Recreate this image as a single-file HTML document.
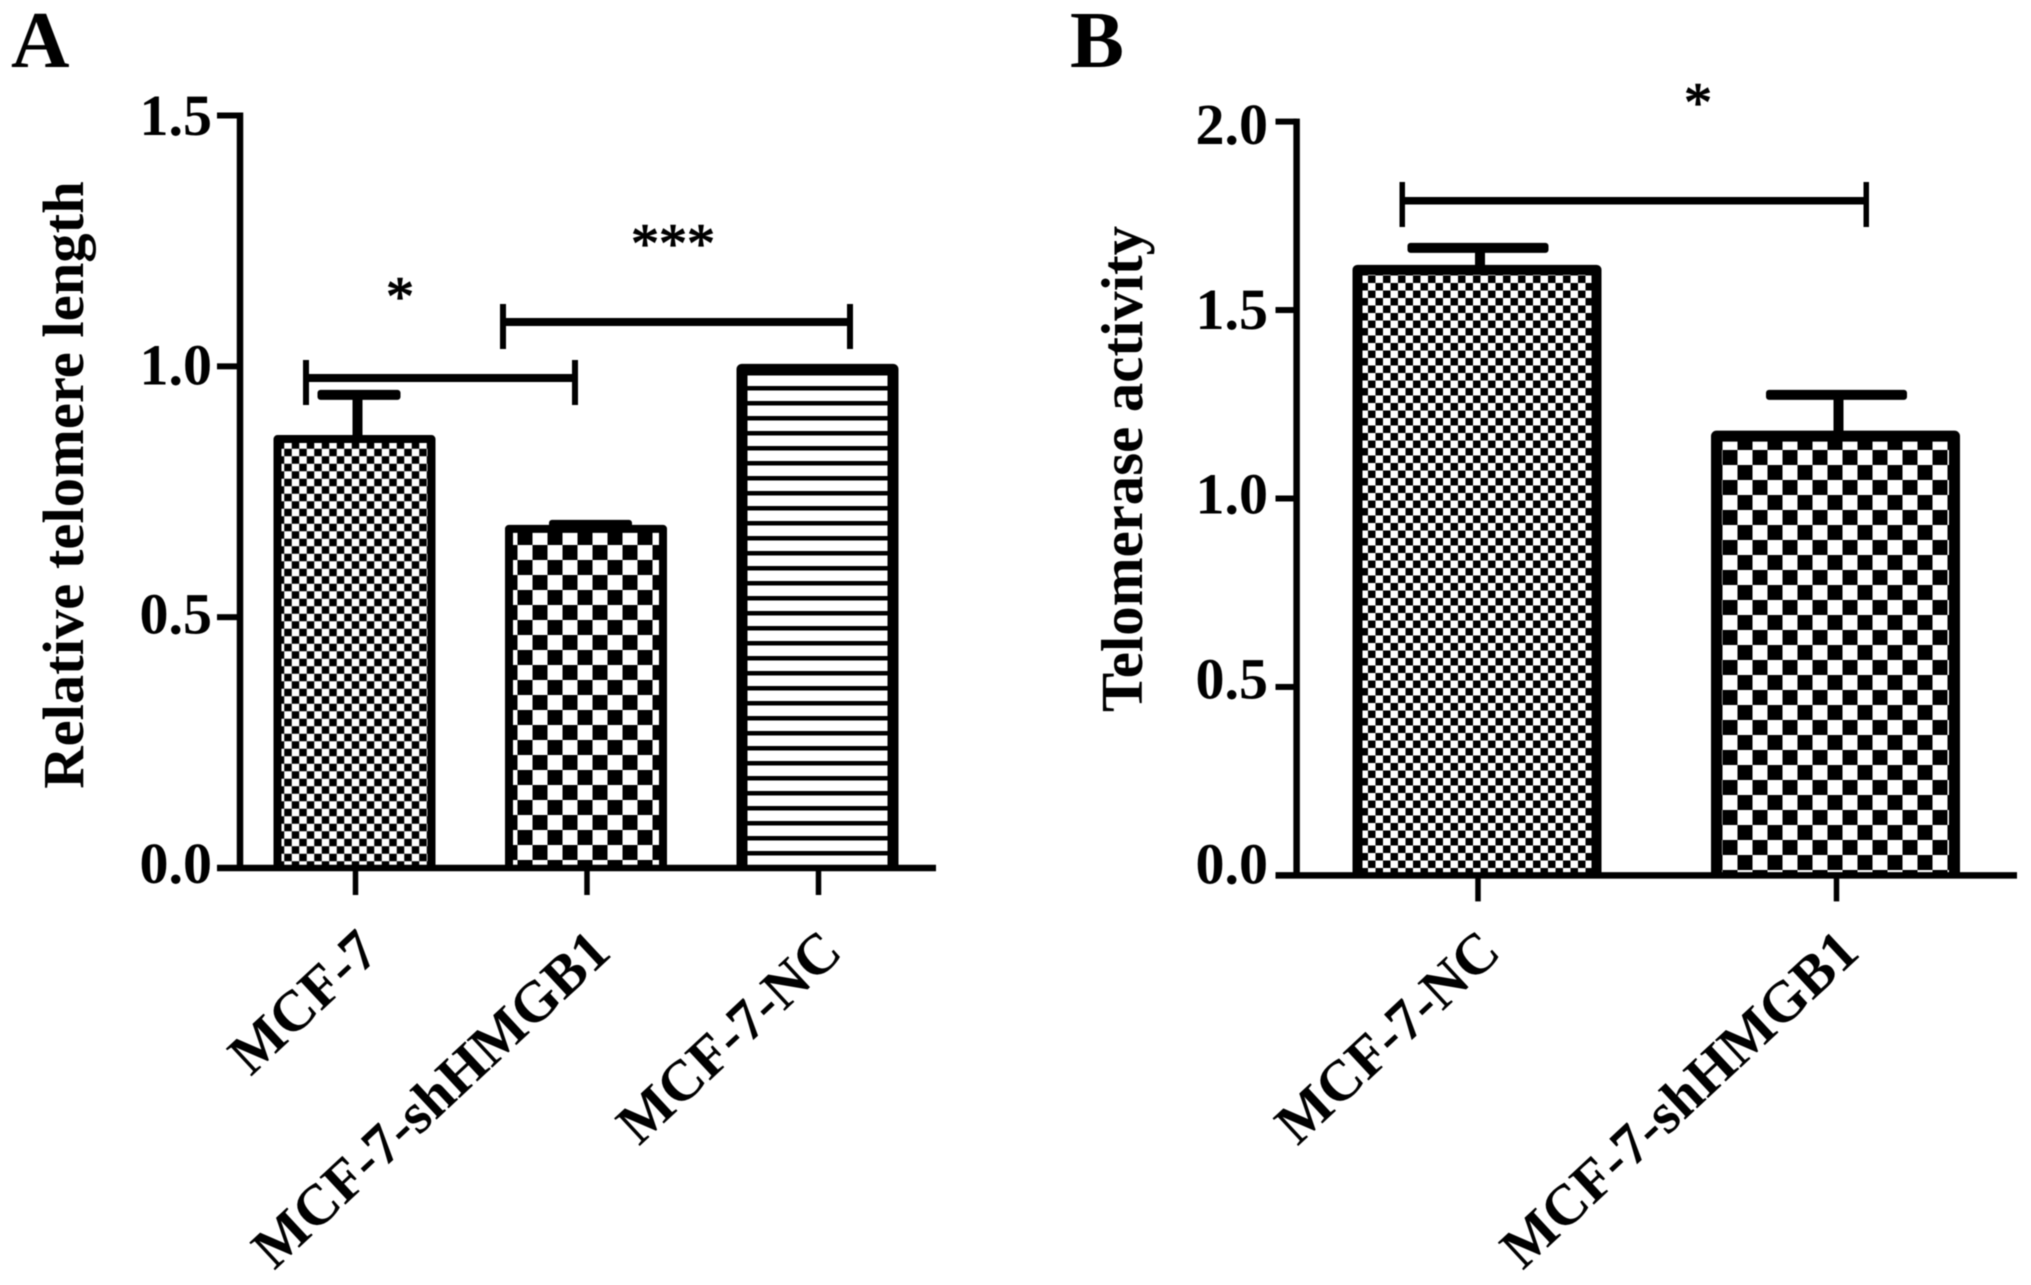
<!DOCTYPE html>
<html lang="en">
<head>
<meta charset="utf-8">
<title>Relative telomere length and telomerase activity</title>
<style>
html,body{margin:0;padding:0;background:#fff;}
svg{display:block;filter:blur(0.6px);}
text{font-family:"Liberation Serif",serif;font-weight:bold;fill:#000;}
</style>
</head>
<body>
<svg id="figure" xmlns="http://www.w3.org/2000/svg" width="2031" height="1285" viewBox="0 0 2031 1285">
  <defs>
    <pattern id="fine-a" patternUnits="userSpaceOnUse" x="284.25" y="441.25" width="15" height="15">
      <rect width="15" height="15" fill="#000"/>
      <rect width="7.5" height="7.5" fill="#fff"/>
      <rect x="7.5" y="7.5" width="7.5" height="7.5" fill="#fff"/>
    </pattern>
    <pattern id="coarse-a" patternUnits="userSpaceOnUse" x="517.5" y="545" width="30" height="30">
      <rect width="30" height="30" fill="#000"/>
      <rect width="15" height="15" fill="#fff"/>
      <rect x="15" y="15" width="15" height="15" fill="#fff"/>
    </pattern>
    <pattern id="lines-a" patternUnits="userSpaceOnUse" x="0" y="386" width="15" height="15">
      <rect width="15" height="15" fill="#fff"/>
      <rect width="15" height="4.5" fill="#000"/>
    </pattern>
    <pattern id="fine-b" patternUnits="userSpaceOnUse" x="1375.5" y="275.5" width="15" height="15">
      <rect width="15" height="15" fill="#000"/>
      <rect width="7.5" height="7.5" fill="#fff"/>
      <rect x="7.5" y="7.5" width="7.5" height="7.5" fill="#fff"/>
    </pattern>
    <pattern id="coarse-b" patternUnits="userSpaceOnUse" x="1737.5" y="450" width="30" height="30">
      <rect width="30" height="30" fill="#000"/>
      <rect width="15" height="15" fill="#fff"/>
      <rect x="15" y="15" width="15" height="15" fill="#fff"/>
    </pattern>
  </defs>
  <rect width="2031" height="1285" fill="#fff"/>

  <text x="11" y="67" font-size="81">A</text>
  <text x="1070" y="67" font-size="81">B</text>

  <text transform="translate(83,485) rotate(-90)" text-anchor="middle" font-size="58.6">Relative telomere length</text>
  <text transform="translate(1142,469) rotate(-90)" text-anchor="middle" font-size="58.8">Telomerase activity</text>

  <g id="panel-a"></g>
  <g id="panel-b"></g>

  <g fill="#000">
    <rect x="306" y="374" width="269" height="8"/>
    <rect x="303" y="360" width="6" height="45"/>
    <rect x="572" y="360" width="6" height="45"/>
  </g>
  <g fill="#000">
    <rect x="503" y="318" width="347" height="8"/>
    <rect x="500" y="304" width="6" height="45"/>
    <rect x="847" y="304" width="6" height="45"/>
  </g>
  <g fill="#000">
    <rect x="1402" y="197" width="464" height="7.5"/>
    <rect x="1399.5" y="182" width="5.5" height="45"/>
    <rect x="1863.5" y="182" width="5.5" height="45"/>
  </g>
  <text x="400" y="315" text-anchor="middle" font-size="56" style="font-weight:normal;stroke:#000;stroke-width:1.2">*</text>
  <text x="673" y="262" text-anchor="middle" font-size="56" style="font-weight:normal;stroke:#000;stroke-width:1.2">***</text>
  <text x="1698" y="121" text-anchor="middle" font-size="56" style="font-weight:normal;stroke:#000;stroke-width:1.2">*</text>
</svg>

<script>
/* Panel A data */
const aCategories = ["MCF-7", "MCF-7-shHMGB1", "MCF-7-NC"];
const aValues = [0.863, 0.684, 1.005];
const aErrorTops = [0.943, 0.684, null];
const aTickLabels = ["0.0", "0.5", "1.0", "1.5"];

/* Panel B data */
const bCategories = ["MCF-7-NC", "MCF-7-shHMGB1"];
const bValues = [1.62, 1.18];
const bErrorTops = [1.665, 1.275];
const bTickLabels = ["0.0", "0.5", "1.0", "1.5", "2.0"];

const NS = "http://www.w3.org/2000/svg";

function make(parent, tag, attrs) {
  const node = document.createElementNS(NS, tag);
  for (const key in attrs) node.setAttribute(key, attrs[key]);
  parent.appendChild(node);
  return node;
}

function drawPanel(parent, cfg, categories, values, errorTops, tickLabels) {
  const maxTick = parseFloat(tickLabels[tickLabels.length - 1]);
  const yScale = function (v) {
    return cfg.y0 + (cfg.yTop - cfg.y0) * (v / maxTick);
  };
  const xScale = function (i) {
    return cfg.x0 + cfg.step * i;
  };

  categories.forEach(function (cat, i) {
    const c = xScale(i);

    if (errorTops[i] !== null) {
      const yErr = yScale(errorTops[i]);
      const stem = make(parent, "rect", {
        x: c + 3 - 5, y: yErr, width: 10, height: yScale(values[i]) - yErr + 6, fill: "#000"
      });
      
      
      const cap = make(parent, "rect", {
        x: c + cfg.capShift - cfg.capWidth / 2, y: yErr - 5, width: cfg.capWidth, height: 10, rx: 3, fill: "#000"
      });
      
      
    }

    const top = yScale(values[i]);
    const s = cfg.borders[i];
    const left = c - cfg.barWidth / 2 + s / 2;
    const right = c + cfg.barWidth / 2 - s / 2;
    const bar = make(parent, "path", {
      d: "M" + left + " " + cfg.y0 + "V" + (top + s / 2) + "H" + right + "V" + cfg.y0,
      fill: "url(#" + cfg.fills[i] + ")",
      stroke: "#000",
      "stroke-width": s,
      "stroke-linejoin": "round"
    });
    
    

    const tick = make(parent, "rect", {
      x: c + 1 - 2.75, y: cfg.y0, width: 5.5, height: cfg.xTickLen, fill: "#000"
    });
    
    

    const label = make(parent, "text", {
      transform: "translate(" + (c + cfg.labelDx) + "," + cfg.labelY + ") rotate(-43)",
      "text-anchor": "end",
      "font-size": 57.5
    });
    label.textContent = cat;
    
    
  });

  const yAxis = make(parent, "rect", {
    x: cfg.axisX - 3.25, y: cfg.yTop - 3, width: 6.5, height: cfg.y0 - cfg.yTop + 6, fill: "#000"
  });
  
  

  const xAxis = make(parent, "rect", {
    x: cfg.tickLeft, y: cfg.y0 - 3.25, width: cfg.xAxisEnd - cfg.tickLeft, height: 6.5, fill: "#000"
  });
  
  

  tickLabels.forEach(function (t) {
    const v = parseFloat(t);
    const y = yScale(v);
    const tick = make(parent, "rect", {
      x: cfg.tickLeft, y: y - 3, width: cfg.axisX - cfg.tickLeft, height: 6, fill: "#000"
    });
    
    

    const label = make(parent, "text", {
      x: cfg.tickTextRight,
      y: y + cfg.labelBase + cfg.labelSlope * v,
      "text-anchor": "end",
      "font-size": 58
    });
    label.textContent = t;
    
    
  });
}

drawPanel(document.getElementById("panel-a"), {
  y0: 868, yTop: 115.5, x0: 354.5, step: 231.5, barWidth: 162,
  axisX: 240, tickLeft: 217, xAxisEnd: 936, tickTextRight: 212,
  labelBase: 15, labelSlope: 3, xTickLen: 27, labelDx: 27, labelY: 955,
  capWidth: 83, capShift: 4.5, borders: [8, 8, 11],
  fills: ["fine-a", "coarse-a", "lines-a"]
}, aCategories, aValues, aErrorTops, aTickLabels);

drawPanel(document.getElementById("panel-b"), {
  y0: 875.4, yTop: 121.6, x0: 1477, step: 358.5, barWidth: 249,
  axisX: 1296.6, tickLeft: 1275.5, xAxisEnd: 2017, tickTextRight: 1268,
  labelBase: 8, labelSlope: 7.2, xTickLen: 26, labelDx: 26, labelY: 955,
  capWidth: 141, capShift: 1, borders: [10, 11],
  fills: ["fine-b", "coarse-b"]
}, bCategories, bValues, bErrorTops, bTickLabels);
</script>
</body>
</html>
